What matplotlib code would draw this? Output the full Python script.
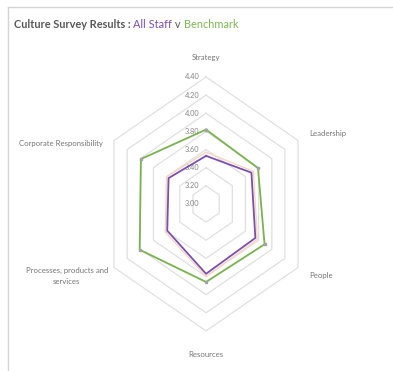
import numpy as np
import matplotlib
matplotlib.use('Agg')
import matplotlib.pyplot as plt
from matplotlib.lines import Line2D

plt.rcParams['font.family'] = ['Lato', 'DejaVu Sans']

categories = ['Strategy', 'Leadership', 'People', 'Resources',
              'Processes, products and\nservices', 'Corporate Responsibility']
all_staff = [3.53, 3.69, 3.75, 3.77, 3.59, 3.57]
benchmark = [3.82, 3.79, 3.89, 3.86, 4.01, 3.99]
other = [3.57, 3.72, 3.78, 3.80, 3.62, 3.60]
ticks = [3.00, 3.20, 3.40, 3.60, 3.80, 4.00, 4.20, 4.40]
r_min = 3.00

W, H = 393, 371
fig = plt.figure(figsize=(W / 100, H / 100), dpi=100)
ax = fig.add_axes([69.4 / W, 3.8 / H, 273.3 / W, 326.5 / H])
ax.set_xlim(-1.8, 1.8)
ax.set_ylim(-1.8, 1.8)
ax.axis('off')

angles = np.deg2rad(90 - 60 * np.arange(len(categories)))


def to_xy(vals):
    r = np.asarray(vals) - r_min
    x = r * np.cos(angles)
    y = r * np.sin(angles)
    return np.append(x, x[0]), np.append(y, y[0])


# hexagonal grid rings
for t in ticks[1:]:
    gx, gy = to_xy([t] * len(categories))
    ax.plot(gx, gy, color='#e0e0e0', lw=0.9, zorder=1)

# tick labels along Strategy axis
for t in ticks:
    ax.text(-0.09, t - r_min, f'{t:.2f}', ha='right', va='center',
            fontsize=5.3, color='#858585', zorder=2)

x, y = to_xy(other)
ax.plot(x, y, color='#f6d6c2', lw=1.0, zorder=3)
x, y = to_xy(benchmark)
ax.plot(x, y, color='#79b24f', lw=1.3, zorder=4,
        marker='s', ms=1.7, mfc='#a3a3a3', mec='#a3a3a3')
x, y = to_xy(all_staff)
ax.plot(x, y, color='#7a4fae', lw=1.3, zorder=5)

# category labels
lab_kw = dict(fontsize=5.6, color='#757575', va='center')
ax.text(0, 1.62, categories[0], ha='center', **lab_kw)
ax.text(1.357, 0.772, categories[1], ha='left', **lab_kw)
ax.text(1.357, -0.794, categories[2], ha='left', **lab_kw)
ax.text(0, -1.665, categories[3], ha='center', **lab_kw)
ax.text(-1.835, -0.794, categories[4], ha='center', linespacing=1.6, **lab_kw)
ax.text(-1.357, 0.672, categories[5], ha='right', **lab_kw)

# chart border (top and left edges)
fig.add_artist(Line2D([8 / W, 1], [1 - 7 / H, 1 - 7 / H], color='#d4d4d4', lw=1.0))
fig.add_artist(Line2D([8 / W, 8 / W], [0, 1 - 7 / H], color='#d4d4d4', lw=1.0))

# multi-coloured title
parts = [('Culture Survey Results : ', '#595959', 'bold'),
         ('All Staff', '#7d4fb0', 'normal'),
         (' v ', '#595959', 'normal'),
         ('Benchmark', '#7cb655', 'normal')]
renderer = fig.canvas.get_renderer()
xpos = 14 / W
for txt, col, wt in parts:
    t = fig.text(xpos, 1 - 24 / H, txt, color=col, fontsize=7.9,
                 fontweight=wt, va='center', ha='left')
    bb = t.get_window_extent(renderer=renderer)
    xpos = bb.x1 / W

fig.savefig('out.png', dpi=100)
